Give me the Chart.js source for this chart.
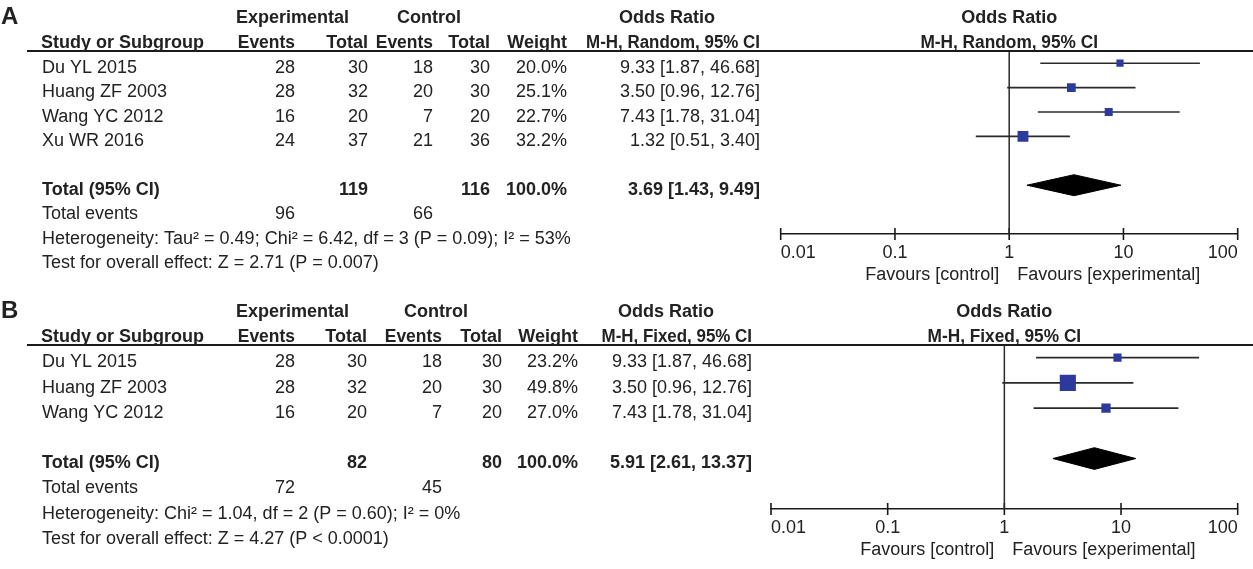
<!DOCTYPE html>
<html>
<head>
<meta charset="utf-8">
<script src="https://cdn.jsdelivr.net/npm/chart.js@4.4.1/dist/chart.umd.min.js"></script>
<style>
html,body{margin:0;padding:0;background:#fff;overflow:hidden;width:1253px;height:569px;}
#wrap{position:relative;width:1253px;height:569px;overflow:hidden;background:#fff;}
canvas{position:absolute;left:0;}
#cA{top:0;}
#cB{top:294px;}
</style>
</head>
<body>
<div id="wrap">
<canvas id="cA" width="1300" height="294"></canvas>
<canvas id="cB" width="1300" height="275"></canvas>
</div>
<script>
// ---------- DATA: panel A (random effects) ----------
const studiesA   = ['Du YL 2015', 'Huang ZF 2003', 'Wang YC 2012', 'Xu WR 2016'];
const expEventsA = [28, 28, 16, 24];
const expTotalA  = [30, 32, 20, 37];
const ctlEventsA = [18, 20, 7, 21];
const ctlTotalA  = [30, 30, 20, 36];
const weightA    = [20.0, 25.1, 22.7, 32.2];
const orA        = [9.33, 3.50, 7.43, 1.32];
const loA        = [1.87, 0.96, 1.78, 0.51];
const hiA        = [46.68, 12.76, 31.04, 3.40];
const totalsA      = [119, 116];          // experimental, control totals
const totalEventsA = [96, 66];
const summaryA     = [3.69, 1.43, 9.49];  // OR, lower, upper
const methodA      = 'M-H, Random, 95% CI';
const hetA  = 'Heterogeneity: Tau\u00B2 = 0.49; Chi\u00B2 = 6.42, df = 3 (P = 0.09); I\u00B2 = 53%';
const testA = 'Test for overall effect: Z = 2.71 (P = 0.007)';

// ---------- DATA: panel B (fixed effect) ----------
const studiesB   = ['Du YL 2015', 'Huang ZF 2003', 'Wang YC 2012'];
const expEventsB = [28, 28, 16];
const expTotalB  = [30, 32, 20];
const ctlEventsB = [18, 20, 7];
const ctlTotalB  = [30, 30, 20];
const weightB    = [23.2, 49.8, 27.0];
const orB        = [9.33, 3.50, 7.43];
const loB        = [1.87, 0.96, 1.78];
const hiB        = [46.68, 12.76, 31.04];
const totalsB      = [82, 80];
const totalEventsB = [72, 45];
const summaryB     = [5.91, 2.61, 13.37];
const methodB      = 'M-H, Fixed, 95% CI';
const hetB  = 'Heterogeneity: Chi\u00B2 = 1.04, df = 2 (P = 0.60); I\u00B2 = 0%';
const testB = 'Test for overall effect: Z = 4.27 (P < 0.0001)';

// ---------- axis ----------
const tickValues = [0.01, 0.1, 1, 10, 100];
const tickLabels = ['0.01', '0.1', '1', '10', '100'];
const favourLeft  = 'Favours [control]';
const favourRight = 'Favours [experimental]';

// ---------- styling ----------
const FONT = '"Liberation Sans", Arial, Helvetica, sans-serif';
const TXT = '#222222';
const BLUE = '#2c3a9e';
const LINE = '#2a2a2a';

function f2(v){ return v.toFixed(2); }
function ciText(o,l,h){ return f2(o) + ' [' + f2(l) + ', ' + f2(h) + ']'; }

function drawText(ctx, s, x, y, align, bold, size, squeeze){
  ctx.font = (bold ? 'bold ' : '') + (size || 18) + 'px ' + FONT;
  ctx.textAlign = align;
  ctx.textBaseline = 'middle';
  ctx.fillStyle = TXT;
  if (squeeze) {
    const w = ctx.measureText(s).width * squeeze;
    ctx.fillText(s, x, y, w);
  } else {
    ctx.fillText(s, x, y);
  }
}

function makeTablePlugin(d, lay){
  return {
    id: 'forestTable' + d.letter,
    afterDraw(chart){
      const ctx = chart.ctx;
      const ys = chart.scales.y, xs = chart.scales.x;
      const top = chart.chartArea.top, bottom = chart.chartArea.bottom;
      const n = d.studies.length;
      const rowY = i => ys.getPixelForValue(i) + 4.7;
      const h1 = top - 33, h2 = top - 8;
      const x1 = xs.getPixelForValue(1);
      ctx.save();
      // underline
      ctx.strokeStyle = '#1a1a1a';
      ctx.lineWidth = 2;
      ctx.beginPath();
      ctx.moveTo(27, top);
      ctx.lineTo(chart.width, top);
      ctx.stroke();
      // panel letter
      drawText(ctx, d.letter, 1, top - 33.5, 'left', true, 24);
      // headers
      drawText(ctx, 'Experimental', lay.expHdr, h1, 'left', true);
      drawText(ctx, 'Control', lay.ctlHdr, h1, 'left', true);
      drawText(ctx, 'Odds Ratio', lay.orHdr, h1, 'left', true);
      drawText(ctx, 'Odds Ratio', x1, h1, 'center', true);
      drawText(ctx, 'Study or Subgroup', lay.name - 1, h2, 'left', true);
      drawText(ctx, 'Events', lay.expEv, h2, 'right', true, 18, 0.97);
      drawText(ctx, 'Total', lay.expTot, h2, 'right', true);
      drawText(ctx, 'Events', lay.ctlEv, h2, 'right', true, 18, 0.97);
      drawText(ctx, 'Total', lay.ctlTot, h2, 'right', true);
      drawText(ctx, 'Weight', lay.weight, h2, 'right', true);
      drawText(ctx, d.method, lay.ci, h2, 'right', true, 18, 0.94);
      drawText(ctx, d.method, x1, h2, 'center', true, 18, 0.96);
      // study rows
      for (let i = 0; i < n; i++){
        const y = rowY(i);
        drawText(ctx, d.studies[i], lay.name, y, 'left');
        drawText(ctx, String(d.expEvents[i]), lay.expEv, y, 'right');
        drawText(ctx, String(d.expTotal[i]), lay.expTot, y, 'right');
        drawText(ctx, String(d.ctlEvents[i]), lay.ctlEv, y, 'right');
        drawText(ctx, String(d.ctlTotal[i]), lay.ctlTot, y, 'right');
        drawText(ctx, d.weight[i].toFixed(1) + '%', lay.weight, y, 'right');
        drawText(ctx, ciText(d.or[i], d.lo[i], d.hi[i]), lay.ci, y, 'right');
      }
      // total row
      let y = rowY(n + 1);
      drawText(ctx, 'Total (95% CI)', lay.name, y, 'left', true);
      drawText(ctx, String(d.totals[0]), lay.expTot, y, 'right', true);
      drawText(ctx, String(d.totals[1]), lay.ctlTot, y, 'right', true);
      drawText(ctx, '100.0%', lay.weight, y, 'right', true);
      drawText(ctx, ciText(d.summary[0], d.summary[1], d.summary[2]), lay.ci, y, 'right', true);
      y = rowY(n + 2);
      drawText(ctx, 'Total events', lay.name, y, 'left');
      drawText(ctx, String(d.totalEvents[0]), lay.expEv, y, 'right');
      drawText(ctx, String(d.totalEvents[1]), lay.ctlEv, y, 'right');
      drawText(ctx, d.het, lay.name, rowY(n + 3), 'left');
      drawText(ctx, d.test, lay.name, rowY(n + 4), 'left');
      // favours labels
      drawText(ctx, favourLeft, x1 - 10, bottom + 41, 'right');
      drawText(ctx, favourRight, x1 + 8, bottom + 41, 'left');
      ctx.restore();
    }
  };
}

function buildPanel(canvasId, d, lay){
  const n = d.studies.length;
  const axisRow = n + 3;
  const totalRow = n + 1;
  const halfH = 0.43;
  const datasets = [];
  // study squares
  datasets.push({
    type: 'scatter', label: 'Studies', order: 0,
    data: d.or.map((v, i) => ({x: v, y: i})),
    pointStyle: 'rect',
    pointRadius: d.weight.map(w => (0.3 * w + 1.2) / Math.SQRT2),
    pointBackgroundColor: BLUE, pointBorderWidth: 0, pointBorderColor: BLUE,
    pointHoverRadius: d.weight.map(w => (0.3 * w + 1.2) / Math.SQRT2)
  });
  // confidence intervals
  d.lo.forEach((l, i) => {
    datasets.push({
      type: 'line', label: 'CI ' + d.studies[i], order: 1,
      data: [{x: l, y: i}, {x: d.hi[i], y: i}],
      borderColor: LINE, borderWidth: 1.6, pointRadius: 0, pointHoverRadius: 0,
      fill: false, tension: 0
    });
  });
  // summary diamond (upper + lower halves, filled between)
  datasets.push({
    type: 'line', label: 'Total upper', order: 1,
    data: [{x: d.summary[1], y: totalRow}, {x: d.summary[0], y: totalRow - halfH}, {x: d.summary[2], y: totalRow}],
    borderColor: '#000', borderWidth: 1, pointRadius: 0, fill: false, tension: 0
  });
  datasets.push({
    type: 'line', label: 'Total lower', order: 1,
    data: [{x: d.summary[1], y: totalRow}, {x: d.summary[0], y: totalRow + halfH}, {x: d.summary[2], y: totalRow}],
    borderColor: '#000', borderWidth: 1, pointRadius: 0, fill: '-1', backgroundColor: '#000', tension: 0
  });
  // line of no effect
  datasets.push({
    type: 'line', label: 'No effect', order: 2,
    data: [{x: 1, y: -0.5}, {x: 1, y: axisRow}],
    borderColor: LINE, borderWidth: 1.5, pointRadius: 0, fill: false, clip: false
  });
  // axis tick marks
  datasets.push({
    type: 'scatter', label: 'Ticks', order: 3,
    data: tickValues.map(v => ({x: v, y: axisRow})),
    pointStyle: 'line', pointRotation: 90, pointRadius: 6, pointHoverRadius: 6,
    pointBorderColor: '#1a1a1a', pointBorderWidth: 1.6, clip: false
  });

  const canvas = document.getElementById(canvasId);
  return new Chart(canvas, {
    type: 'scatter',
    data: {datasets},
    options: {
      responsive: false,
      animation: false,
      events: [],
      layout: {padding: {left: lay.plotLeft, right: canvas.width - lay.plotRight, top: 51, bottom: lay.padBottom}},
      plugins: {legend: {display: false}, tooltip: {enabled: false}},
      scales: {
        x: {
          type: 'logarithmic', min: 0.01, max: 100, position: 'bottom',
          afterBuildTicks: s => { s.ticks = tickValues.map(v => ({value: v})); },
          afterFit: s => { s.height = 50; },
          grid: {display: true, drawOnChartArea: false, drawTicks: false},
          border: {display: true, color: '#1a1a1a', width: 1.6},
          ticks: {
            autoSkip: false, maxRotation: 0, minRotation: 0, align: 'inner', padding: 8,
            color: TXT, font: {family: FONT, size: 18},
            callback: (v, i) => tickLabels[i]
          }
        },
        y: {type: 'linear', min: -0.5, max: axisRow, reverse: true, display: false}
      }
    },
    plugins: [makeTablePlugin(d, lay)]
  });
}

buildPanel('cA', {
  letter: 'A', studies: studiesA, expEvents: expEventsA, expTotal: expTotalA,
  ctlEvents: ctlEventsA, ctlTotal: ctlTotalA, weight: weightA, or: orA, lo: loA, hi: hiA,
  totals: totalsA, totalEvents: totalEventsA, summary: summaryA, method: methodA, het: hetA, test: testA
}, {
  name: 42, expEv: 295, expTot: 368, ctlEv: 433, ctlTot: 490, weight: 567, ci: 760,
  expHdr: 236, ctlHdr: 397, orHdr: 619, plotLeft: 780.7, plotRight: 1237.7, padBottom: 10
});

buildPanel('cB', {
  letter: 'B', studies: studiesB, expEvents: expEventsB, expTotal: expTotalB,
  ctlEvents: ctlEventsB, ctlTotal: ctlTotalB, weight: weightB, or: orB, lo: loB, hi: hiB,
  totals: totalsB, totalEvents: totalEventsB, summary: summaryB, method: methodB, het: hetB, test: testB
}, {
  name: 42, expEv: 295, expTot: 367, ctlEv: 442, ctlTot: 502, weight: 578, ci: 752,
  expHdr: 236, ctlHdr: 404, orHdr: 618, plotLeft: 771, plotRight: 1237.7, padBottom: 10
});
</script>
</body>
</html>
